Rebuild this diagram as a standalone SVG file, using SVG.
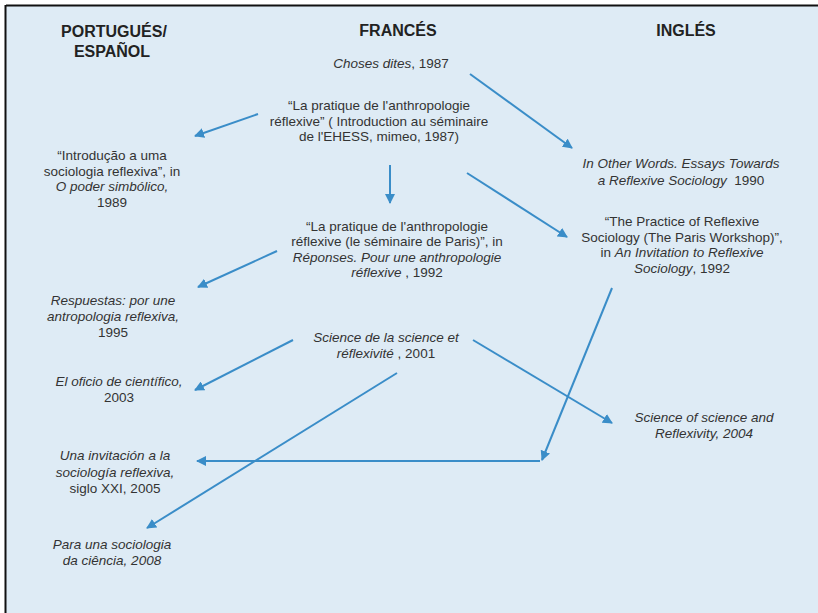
<svg xmlns="http://www.w3.org/2000/svg" width="818" height="613" viewBox="0 0 818 613">
<style>
text{font-family:"Liberation Sans",Arial,sans-serif;fill:#333;font-size:13.5px;text-anchor:middle}
.h{font-weight:bold;font-size:16px;fill:#222}
.i{font-style:italic}
.c{stroke:#3a8dc8;stroke-width:2;fill:none;marker-end:url(#ah)}
</style>
<defs>
<marker id="ah" viewBox="0 0 10 10" refX="9" refY="5" markerWidth="5" markerHeight="5" orient="auto" markerUnits="strokeWidth">
<path d="M0,0 L10,5 L0,10 z" fill="#3a8dc8"/>
</marker>
</defs>
<rect x="0" y="0" width="818" height="613" fill="#fff"/>
<rect x="6" y="6" width="812" height="607" fill="#deebf5"/>
<path d="M6,5.5 H818 M5.5,5 V613" stroke="#111" stroke-width="2" fill="none"/>

<g id="headers">
<text class="h" x="114" y="37">PORTUGUÉS/</text>
<text class="h" x="112" y="57">ESPAÑOL</text>
<text class="h" x="398" y="36">FRANCÉS</text>
<text class="h" x="686" y="36">INGLÉS</text>
</g>

<g id="choses"><text x="391" y="68"><tspan class="i">Choses dites</tspan>, 1987</text></g>
<g id="ehess">
<text x="379" y="110">“La pratique de l'anthropologie</text>
<text x="379" y="125.5">réflexive” ( Introduction au séminaire</text>
<text x="379" y="141">de l'EHESS, mimeo, 1987)</text>
</g>
<g id="introducao">
<text x="112" y="160">“Introdução a uma</text>
<text x="112" y="175.5">sociologia reflexiva”, in</text>
<text x="112" y="191" class="i">O poder simbólico,</text>
<text x="112" y="206.5">1989</text>
</g>
<g id="otherwords">
<text x="681" y="168" class="i">In Other Words. Essays Towards</text>
<text x="681" y="185"><tspan class="i">a Reflexive Sociology</tspan>&#160; 1990</text>
</g>
<g id="paris">
<text x="397" y="231">“La pratique de l'anthropologie</text>
<text x="397" y="246">réflexive (le séminaire de Paris)”, in</text>
<text x="397" y="261.5" class="i">Réponses. Pour une anthropologie</text>
<text x="397" y="277"><tspan class="i">réflexive</tspan> , 1992</text>
</g>
<g id="practice">
<text x="682" y="226">“The Practice of Reflexive</text>
<text x="682" y="241.5">Sociology (The Paris Workshop)”,</text>
<text x="682" y="257">in <tspan class="i">An Invitation to Reflexive</tspan></text>
<text x="682" y="272.5"><tspan class="i">Sociology</tspan>, 1992</text>
</g>
<g id="respuestas">
<text x="113" y="305" class="i">Respuestas: por une</text>
<text x="113" y="321" class="i">antropologia reflexiva,</text>
<text x="113" y="337">1995</text>
</g>
<g id="science2001">
<text x="386" y="342" class="i">Science de la science et</text>
<text x="386" y="358"><tspan class="i">réflexivité</tspan> , 2001</text>
</g>
<g id="oficio">
<text x="119" y="386" class="i">El oficio de científico,</text>
<text x="119" y="402">2003</text>
</g>
<g id="science2004">
<text x="704" y="422" class="i">Science of science and</text>
<text x="704" y="438" class="i">Reflexivity, 2004</text>
</g>
<g id="invitacion">
<text x="115" y="460" class="i">Una invitación a la</text>
<text x="115" y="476.5" class="i">sociología reflexiva,</text>
<text x="115" y="493">siglo XXI, 2005</text>
</g>
<g id="para">
<text x="112" y="549" class="i">Para una sociologia</text>
<text x="112" y="565" class="i">da ciência, 2008</text>
</g>

<g id="connectors">
<line class="c" x1="470" y1="74" x2="572" y2="148"/>
<line class="c" x1="258" y1="114" x2="195" y2="136"/>
<line class="c" x1="390" y1="165" x2="390" y2="203"/>
<line class="c" x1="467" y1="173" x2="567" y2="237"/>
<line class="c" x1="277" y1="251" x2="198" y2="287"/>
<line class="c" x1="293" y1="340" x2="195" y2="390"/>
<line class="c" x1="473" y1="340" x2="612" y2="423"/>
<line class="c" x1="612" y1="288" x2="542" y2="460"/>
<line class="c" x1="540" y1="461" x2="197" y2="461"/>
<line class="c" x1="397" y1="373" x2="147" y2="528"/>
</g>
</svg>
